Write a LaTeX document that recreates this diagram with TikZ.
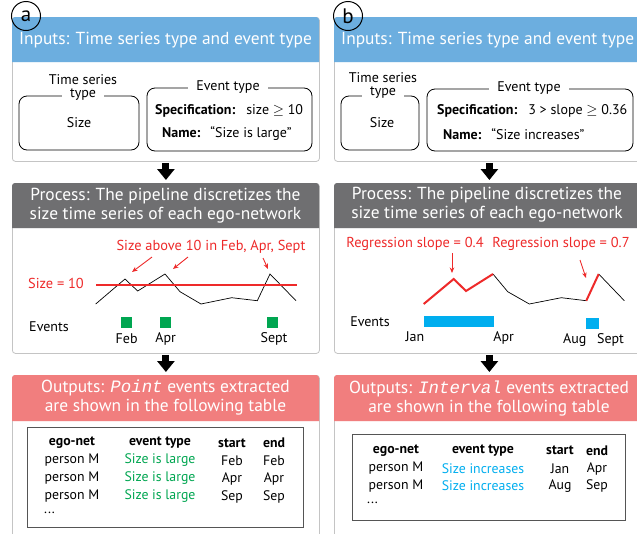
\documentclass[tikz,border=0pt]{standalone}
\usepackage{fontspec}
\setmainfont{PT Sans}
\newfontfamily\monoit{Liberation Mono}
\usetikzlibrary{arrows.meta}
\definecolor{hblue}{HTML}{6CAEDF}
\definecolor{hgrey}{HTML}{6F6F71}
\definecolor{hred}{HTML}{F17E7E}
\definecolor{tred}{HTML}{EE2A2A}
\definecolor{tgreen}{HTML}{00A651}
\definecolor{tcyan}{HTML}{00AEEF}
\definecolor{bgrey}{HTML}{C4C4C4}
\definecolor{tabline}{HTML}{555555}
\tikzset{
  panel/.style={draw=bgrey, line width=0.8pt, fill=white, rounded corners=3pt, anchor=north west, inner sep=0pt},
  headtxt/.style={text=white, font=\fontsize{17.4}{19}\selectfont, align=center, inner sep=0pt},
  bodytxt/.style={font=\fontsize{14}{15}\selectfont, inner sep=0pt},
  inbox/.style={draw=black, line width=0.8pt, rounded corners=8pt},
  boxtitle/.style={font=\fontsize{14}{15}\selectfont, fill=white, inner xsep=8pt, inner ysep=1pt},
  bigarrow/.style={line width=7pt, -{Triangle[width=17pt,length=11pt]}, shorten >=3pt, shorten <=1pt},
  redarrow/.style={tred, line width=0.9pt, -{Stealth[length=5.5pt,width=4.5pt]}},
  redtxt/.style={text=tred, font=\fontsize{14.4}{15}\selectfont, inner sep=0pt},
  thresh/.style={draw=tred, line width=1.1pt},
  series/.style={black, line width=0.7pt},
  panelletter/.style={draw=black, line width=1pt, circle, minimum size=29pt, inner sep=0pt, font=\fontsize{21}{21}\selectfont},
  tabtxt/.style={font=\fontsize{13.8}{14}\selectfont, inner sep=0pt},
  tabhead/.style={font=\fontsize{13.8}{14}\selectfont\bfseries, inner sep=0pt}
}
\begin{document}
\begin{tikzpicture}[x=1pt,y=-1pt]
\useasboundingbox (0,0) rectangle (637,533);
\clip (0,0) rectangle (637,533);

% ================= Panel A =================
\node[panel, minimum width=307pt, minimum height=144pt] (inA) at (12,17) {};
\fill[hblue] (12,62) [rounded corners=3pt] -- (12,17) -- (319,17) [sharp corners] -- (319,62) -- cycle;
\draw[white!85!hblue, line width=0.6pt] (14,62) -- (317,62);
\node[headtxt] (hinA) at (165.5,40) {Inputs: Time series type and event type};
\node[panelletter] (la) at (26,16) {a};

\draw[inbox] (19,96) rectangle (139,150);
\node[bodytxt] (tstA1) at (83,80) {Time series};
\node[boxtitle] (tstA2) at (83,95) {type};
\node[bodytxt] (tsA) at (79,123) {Size};
\draw[inbox] (147,88) rectangle (312,151);
\node[boxtitle] (etA) at (228,87) {Event type};
\node[bodytxt, anchor=west] (specA) at (155,111) {\textbf{Specification:}\hspace{6pt} size $\geq$ 10};
\node[bodytxt, anchor=west] (nameA) at (162,134) {\textbf{Name:}\hspace{5pt} “Size is large”};

\node[panel, minimum width=307pt, minimum height=170pt] (procA) at (12,183) {};
\fill[hgrey] (12,228) [rounded corners=3pt] -- (12,183) -- (319,183) [sharp corners] -- (319,228) -- cycle;
\draw[white!85!hgrey, line width=0.6pt] (14,228) -- (317,228);
\node[headtxt] (hprocA) at (165.5,205.5) {Process: The pipeline discretizes the\\size time series of each ego-network};

\node[redtxt] (rlA) at (211,247) {Size above 10 in Feb, Apr, Sept};
\coordinate (rA1s) at (152,257); \coordinate (rA1e) at (132,272);
\coordinate (rA2s) at (188,257); \coordinate (rA2e) at (173,269);
\coordinate (rA3s) at (263,258); \coordinate (rA3e) at (268,269);
\draw[redarrow] (rA1s) -- (rA1e);
\draw[redarrow] (rA2s) -- (rA2e);
\draw[redarrow] (rA3s) -- (rA3e);
\node[redtxt] (thA) at (56,283) {Size = 10};
\coordinate (thL) at (96,285); \coordinate (thR) at (297,285);
\draw[series] (95.7,304) -- (125,279) -- (137.7,291) -- (165,274) -- (180,291.7) -- (201,304) -- (231.7,297.7) -- (257.3,300.7) -- (270,274) -- (296,300.7);
\draw[thresh] (thL) -- (thR);
\fill[tgreen] (121.2,316.5) rectangle +(11,11);
\fill[tgreen] (160.2,316.5) rectangle +(11,11);
\fill[tgreen] (267.2,316.5) rectangle +(11,11);
\node[bodytxt] (evA) at (49,327) {Events};
\node[bodytxt] (febA) at (126.7,338.5) {Feb};
\node[bodytxt] (aprA) at (165.7,338.5) {Apr};
\node[bodytxt] (sepA) at (274,338.5) {Sept};

\node[panel, minimum width=307pt, minimum height=170pt] (outA) at (12,375) {};
\fill[hred] (12,421) [rounded corners=3pt] -- (12,375) -- (319,375) [sharp corners] -- (319,421) -- cycle;
\draw[white!85!hred, line width=0.6pt] (14,421) -- (317,421);
\node[headtxt] (houtA) at (165.5,398) {Outputs: {\monoit\itshape Point} events extracted\\are shown in the following table};

\draw[tabline, line width=1pt] (27,427) rectangle (303,527);
\node[tabhead] (cA1) at (72,443) {ego-net};
\node[tabhead] (cA2) at (160,443) {event type};
\node[tabhead] (cA3) at (232,443) {start};
\node[tabhead] (cA4) at (274,443) {end};
\foreach \y/\m/\n [count=\i] in {460.5/Feb/Feb, 478.5/Apr/Apr, 496.5/Sep/Sep}{
  \node[tabtxt] (pA\i) at (72,\y) {person M};
  \node[tabtxt, text=tgreen] (eA\i) at (160,\y) {Size is large};
  \node[tabtxt] (sA\i) at (232,\y) {\m};
  \node[tabtxt] (fA\i) at (274,\y) {\n};
}
\node[tabtxt, anchor=west] (dotsA) at (44,513) {...};

\draw[bigarrow] (inA.south) -- (procA.north);
\draw[bigarrow] (procA.south) -- (outA.north);

% ================= Panel B =================
\node[panel, minimum width=310pt, minimum height=144pt] (inB) at (334,17) {};
\fill[hblue] (334,62) [rounded corners=3pt] -- (334,17) -- (648,17) [sharp corners] -- (648,62) -- cycle;
\draw[white!85!hblue, line width=0.6pt] (336,62) -- (646,62);
\node[headtxt, anchor=west] (hinB) at (341,40) {Inputs: Time series type and event type};
\node[panelletter] (lb) at (348,16) {b};

\draw[inbox] (341,96) rectangle (419,150);
\node[bodytxt] (tstB1) at (383,77.5) {Time series};
\node[boxtitle] (tstB2) at (383,92.5) {type};
\node[bodytxt] (tsB) at (382,123) {Size};
\draw[inbox] (427,89) rectangle (633,151);
\node[boxtitle] (etB) at (529,88) {Event type};
\node[bodytxt, anchor=west] (specB) at (437,111) {\textbf{Specification:}\hspace{6pt} 3 > slope $\geq$ 0.36};
\node[bodytxt, anchor=west] (nameB) at (443,134) {\textbf{Name:}\hspace{5pt} “Size increases”};

\node[panel, minimum width=310pt, minimum height=170pt] (procB) at (334,183) {};
\fill[hgrey] (334,228) [rounded corners=3pt] -- (334,183) -- (648,183) [sharp corners] -- (648,228) -- cycle;
\draw[white!85!hgrey, line width=0.6pt] (336,228) -- (646,228);
\node[headtxt] (hprocB) at (487,205) {Process: The pipeline discretizes the\\size time series of each ego-network};

\node[redtxt] (rlB1) at (415,244) {Regression slope = 0.4};
\node[redtxt] (rlB2) at (561,244) {Regression slope = 0.7};
\coordinate (rB1s) at (452,253); \coordinate (rB1e) at (452,273);
\coordinate (rB2s) at (580,260); \coordinate (rB2e) at (586,278);
\draw[redarrow] (rB1s) -- (rB1e);
\draw[redarrow] (rB2s) -- (rB2e);
\draw[series] (493,274) -- (507.7,291.7) -- (529.3,304) -- (561.3,297.7) -- (586.3,300.7);
\draw[series] (598.7,274) -- (624.3,300.7);
\draw[tred, line width=2pt, line join=miter] (423.7,304) -- (453.7,279) -- (466,291) -- (493,274);
\draw[tred, line width=2pt] (586.3,300.7) -- (598.7,274);
\fill[tcyan] (423.7,315.7) rectangle (493.7,326.7);
\fill[tcyan] (586,317.7) rectangle (598.7,329);
\node[bodytxt] (evB) at (370,321.5) {Events};
\node[bodytxt] (janB) at (415,336.5) {Jan};
\node[bodytxt] (aprB) at (503.7,338) {Apr};
\node[bodytxt] (augB) at (574.7,340) {Aug};
\node[bodytxt] (sepB) at (610.5,340) {Sept};

\node[panel, minimum width=310pt, minimum height=170pt] (outB) at (334,375) {};
\fill[hred] (334,421) [rounded corners=3pt] -- (334,375) -- (648,375) [sharp corners] -- (648,421) -- cycle;
\draw[white!85!hred, line width=0.6pt] (336,421) -- (646,421);
\node[headtxt] (houtB) at (489,398.5) {Outputs: {\monoit\itshape Interval} events extracted\\are shown in the following table};

\draw[tabline, line width=1pt] (352,434) rectangle (625,520);
\node[tabhead] (cB1) at (396,450.7) {ego-net};
\node[tabhead] (cB2) at (483,450.7) {event type};
\node[tabhead] (cB3) at (560,450.7) {start};
\node[tabhead] (cB4) at (597,450.7) {end};
\foreach \y/\m/\n [count=\i] in {468.5/Jan/Apr, 486/Aug/Sep}{
  \node[tabtxt] (pB\i) at (396,\y) {person M};
  \node[tabtxt, text=tcyan] (eB\i) at (483,\y) {Size increases};
  \node[tabtxt] (sB\i) at (560,\y) {\m};
  \node[tabtxt] (fB\i) at (597,\y) {\n};
}
\node[tabtxt, anchor=west] (dotsB) at (367,503) {...};

\draw[bigarrow] (inB.south) -- (procB.north);
\draw[bigarrow] (procB.south) -- (outB.north);
\end{tikzpicture}
\end{document}
